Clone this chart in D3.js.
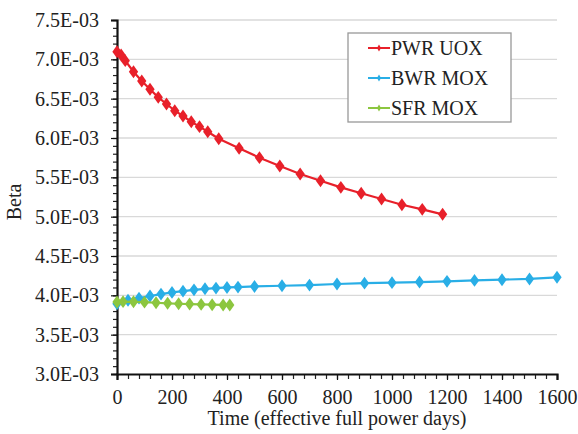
<!DOCTYPE html>
<html>
<head>
<meta charset="utf-8">
<script src="https://cdn.jsdelivr.net/npm/d3@7"></script>
<style>
  body { margin: 0; background: #fff; }
  svg text { font-family: "Liberation Serif", "Times New Roman", serif !important; fill: #222; }
</style>
</head>
<body>
<svg id="chart" width="578" height="434"></svg>
<script>
const width = 578;
const height = 434;
const margin = { top: 20, right: 21, bottom: 60, left: 117 };

// data (time in EFPD, beta)
const pwrDays = [0, 15, 30, 60, 90, 120, 150, 180, 210, 240, 270, 300, 330, 370, 444, 518, 592, 666, 740, 814, 888, 962, 1036, 1110, 1184];
const pwrBeta = [7.097e-3, 7.055e-3, 6.983e-3, 6.843e-3, 6.724e-3, 6.619e-3, 6.517e-3, 6.432e-3, 6.347e-3, 6.280e-3, 6.207e-3, 6.144e-3, 6.080e-3, 5.991e-3, 5.869e-3, 5.750e-3, 5.644e-3, 5.542e-3, 5.457e-3, 5.373e-3, 5.297e-3, 5.224e-3, 5.152e-3, 5.093e-3, 5.030e-3];

const bwrDays = [0, 40, 80, 120, 160, 200, 240, 280, 320, 360, 400, 440, 500, 600, 700, 800, 900, 1000, 1100, 1200, 1300, 1400, 1500, 1600];
const bwrBeta = [3.892e-3, 3.937e-3, 3.964e-3, 3.991e-3, 4.016e-3, 4.037e-3, 4.053e-3, 4.070e-3, 4.083e-3, 4.092e-3, 4.100e-3, 4.105e-3, 4.113e-3, 4.122e-3, 4.130e-3, 4.144e-3, 4.155e-3, 4.161e-3, 4.169e-3, 4.178e-3, 4.190e-3, 4.199e-3, 4.208e-3, 4.229e-3];

const sfrDays = [0, 22, 60, 100, 142, 184, 224, 264, 306, 346, 386, 410];
const sfrBeta = [3.915e-3, 3.920e-3, 3.918e-3, 3.913e-3, 3.906e-3, 3.899e-3, 3.893e-3, 3.889e-3, 3.885e-3, 3.881e-3, 3.878e-3, 3.877e-3];

const seriesNames = ["PWR UOX", "BWR MOX", "SFR MOX"];
const seriesColors = ["#e8202a", "#29aee6", "#8cc63f"];

const xTicks = [0, 200, 400, 600, 800, 1000, 1200, 1400, 1600];
const yTicks = [3.0e-3, 3.5e-3, 4.0e-3, 4.5e-3, 5.0e-3, 5.5e-3, 6.0e-3, 6.5e-3, 7.0e-3, 7.5e-3];

const serif = "Liberation Serif, Times New Roman, serif";

const series = [
  { name: seriesNames[0], color: seriesColors[0], pts: pwrDays.map((d, i) => [d, pwrBeta[i]]) },
  { name: seriesNames[1], color: seriesColors[1], pts: bwrDays.map((d, i) => [d, bwrBeta[i]]) },
  { name: seriesNames[2], color: seriesColors[2], pts: sfrDays.map((d, i) => [d, sfrBeta[i]]) }
];

const svg = d3.select("#chart");
const w = width - margin.left - margin.right;
const h = height - margin.top - margin.bottom;
const g = svg.append("g").attr("transform", `translate(${margin.left},${margin.top})`);

const x = d3.scaleLinear().domain([0, 1600]).range([0, w]);
const y = d3.scaleLinear().domain([3.0e-3, 7.5e-3]).range([h, 0]);

// horizontal grid
g.append("g")
  .selectAll("line")
  .data(yTicks.slice(1))
  .enter()
  .append("line")
  .attr("x1", 0)
  .attr("x2", w)
  .attr("y1", d => y(d))
  .attr("y2", d => y(d))
  .attr("stroke", "#d9d9d9")
  .attr("stroke-width", 1.3);

// minor ticks
const yMinor = d3.range(30, 76, 1).map(v => v / 10000);
g.append("g")
  .call(d3.axisLeft(y).tickValues(yMinor).tickSize(4).tickFormat(""))
  .call(a => a.select(".domain").remove())
  .selectAll("line").attr("stroke", "#222").attr("stroke-width", 1.2);

const xMinor = d3.range(0, 1601, 40);
g.append("g")
  .attr("transform", `translate(0,${h})`)
  .call(d3.axisBottom(x).tickValues(xMinor).tickSize(5).tickFormat(""))
  .call(a => a.select(".domain").remove())
  .selectAll("line").attr("stroke", "#222").attr("stroke-width", 1.2);

// Y axis
const yAxis = g.append("g")
  .call(d3.axisLeft(y).tickValues(yTicks).tickSize(6).tickPadding(12)
    .tickFormat(d => (d * 1000).toFixed(1) + "E-03"));
yAxis.attr("font-family", serif).attr("font-size", 20);
yAxis.select(".domain").attr("stroke", "#111").attr("stroke-width", 2.2);
yAxis.selectAll("line").attr("stroke", "#111").attr("stroke-width", 1.2);
yAxis.selectAll("text").attr("fill", "#222");

// X axis
const xAxis = g.append("g")
  .attr("transform", `translate(0,${h})`)
  .call(d3.axisBottom(x).tickValues(xTicks).tickSize(6).tickPadding(10).tickFormat(d3.format("d")));
xAxis.attr("font-family", serif).attr("font-size", 20);
xAxis.select(".domain").attr("stroke", "#111").attr("stroke-width", 2.2);
xAxis.selectAll("line").attr("stroke", "#111").attr("stroke-width", 1.2);
xAxis.selectAll("text").attr("fill", "#222");

// Lines and markers
const line = d3.line().x(d => x(d[0])).y(d => y(d[1]));
const diamond = d3.symbol().type(d3.symbolDiamond).size(48);

series.forEach(s => {
  g.append("path")
    .datum(s.pts)
    .attr("d", line)
    .attr("fill", "none")
    .attr("stroke", s.color)
    .attr("stroke-width", 2.2);

  g.append("g")
    .selectAll("path")
    .data(s.pts)
    .enter()
    .append("path")
    .attr("d", diamond)
    .attr("transform", d => `translate(${x(d[0])},${y(d[1])}) scale(1.25,1)`)
    .attr("fill", s.color);
});

// Axis titles
svg.append("text")
  .attr("x", margin.left + w / 2)
  .attr("y", 425)
  .attr("text-anchor", "middle")
  .style("font-size", "20px")
  .text("Time (effective full power days)");

svg.append("text")
  .attr("transform", `translate(21,${margin.top + h / 2 + 5}) rotate(-90)`)
  .attr("text-anchor", "middle")
  .style("font-size", "20px")
  .text("Beta");

// Legend
const legend = svg.append("g").attr("transform", "translate(348,33)");
legend.append("rect")
  .attr("width", 163)
  .attr("height", 89)
  .attr("fill", "#fff")
  .attr("stroke", "#999")
  .attr("stroke-width", 1.3);

const legendSymbol = d3.symbol().type(d3.symbolDiamond).size(14);
series.forEach((s, i) => {
  const ly = 15 + i * 30;
  legend.append("line")
    .attr("x1", 20).attr("x2", 42)
    .attr("y1", ly).attr("y2", ly)
    .attr("stroke", s.color).attr("stroke-width", 2);
  legend.append("path")
    .attr("d", legendSymbol)
    .attr("transform", `translate(31,${ly})`)
    .attr("fill", s.color);
  legend.append("text")
    .attr("x", 43)
    .attr("y", ly + 7)
    .style("font-size", "20px")
    .text(s.name);
});
</script>
</body>
</html>
